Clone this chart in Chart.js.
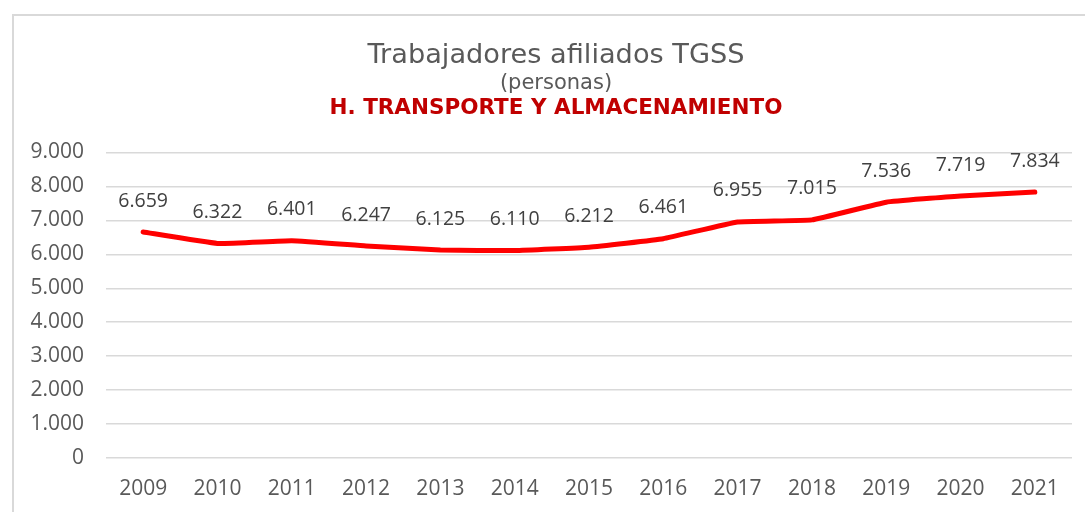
<!DOCTYPE html>
<html>
<head>
<meta charset="utf-8">
<script src="https://cdn.jsdelivr.net/npm/chart.js@4"></script>
<style>
  html, body { margin: 0; padding: 0; background: #ffffff; overflow: hidden; width: 1085px; height: 512px; }
  #wrap { position: absolute; left: 12px; top: 14px; width: 1090px; height: 520px; border: 2px solid #d9d9d9; box-sizing: border-box; background: #fff; }
  #c { position: absolute; left: 0; top: 0; }
</style>
</head>
<body>
<div id="wrap"><canvas id="c" width="1086" height="516"></canvas></div>
<script>
const years = ['2009','2010','2011','2012','2013','2014','2015','2016','2017','2018','2019','2020','2021'];
const afiliados = [6659, 6322, 6401, 6247, 6125, 6110, 6212, 6461, 6955, 7015, 7536, 7719, 7834];
const titleText = 'Trabajadores afiliados TGSS';
const subtitleText = '(personas)';
const sectorText = 'H. TRANSPORTE Y ALMACENAMIENTO';

const fmt = v => Math.round(v).toString().replace(/\B(?=(\d{3})+(?!\d))/g, '.');

const titlesPlugin = {
  id: 'titles',
  afterDraw(chart) {
    const ctx = chart.ctx;
    const cx = 542;
    ctx.save();
    ctx.textAlign = 'center';
    ctx.textBaseline = 'middle';
    ctx.fillStyle = '#595959';
    ctx.font = '27.2px "DejaVu Sans"';
    ctx.fillText(titleText, cx, 39.5);
    ctx.font = '21px "DejaVu Sans"';
    ctx.fillText(subtitleText, cx, 67.5);
    ctx.textBaseline = 'alphabetic';
    ctx.font = 'bold 21.5px "DejaVu Sans"';
    ctx.fillStyle = '#C00000';
    ctx.fillText(sectorText, cx, 97.5);
    ctx.restore();
  }
};

const labelPlugin = {
  id: 'pointLabels',
  afterDatasetsDraw(chart) {
    const ctx = chart.ctx;
    const meta = chart.getDatasetMeta(0);
    ctx.save();
    ctx.font = '19.5px "Open Sans"';
    ctx.fillStyle = '#404040';
    ctx.textAlign = 'center';
    ctx.textBaseline = 'middle';
    meta.data.forEach((pt, i) => {
      ctx.fillText(fmt(chart.data.datasets[0].data[i]), pt.x, pt.y - 31);
    });
    ctx.restore();
  }
};

new Chart(document.getElementById('c'), {
  type: 'line',
  data: {
    labels: years,
    datasets: [{
      data: afiliados,
      borderColor: '#FF0000',
      borderWidth: 5,
      borderCapStyle: 'round',
      borderJoinStyle: 'round',
      pointRadius: 0,
      tension: 0.1,
      fill: false
    }]
  },
  options: {
    responsive: false,
    animation: false,
    devicePixelRatio: 1,
    layout: { padding: { left: 0, right: 28, top: 136.5, bottom: 31 } },
    plugins: {
      legend: { display: false },
      tooltip: { enabled: false },
      title: { display: false },
      subtitle: { display: false }
    },
    scales: {
      x: {
        offset: true,
        grid: { display: false, drawTicks: false },
        border: { display: false },
        ticks: { color: '#595959', font: { family: '"Open Sans"', size: 21 }, padding: 18, maxRotation: 0 },
        afterFit(s) { s.height = 43; }
      },
      y: {
        min: 0, max: 9000,
        ticks: { stepSize: 1000, color: '#595959', font: { family: '"Open Sans"', size: 21 }, padding: 22, callback: v => fmt(v) },
        grid: { color: '#d9d9d9', lineWidth: 1.5, drawTicks: false },
        border: { display: false },
        afterFit(s) { s.width = 92; }
      }
    }
  },
  plugins: [titlesPlugin, labelPlugin]
});
</script>
</body>
</html>
